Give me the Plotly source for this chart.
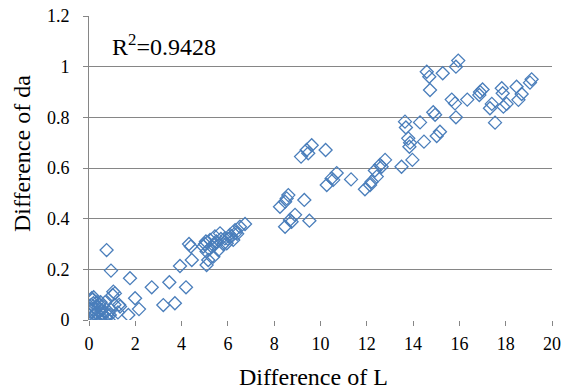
import plotly.graph_objects as go

# Difference of L (x) and Difference of da (y)
diff_L = [
    0.0, 0.05, 0.1, 0.12, 0.15, 0.19, 0.2, 0.25, 0.3, 0.35, 0.4, 0.45, 0.5, 0.55,
    0.6, 0.65, 0.7, 0.75, 0.85, 0.9, 0.95, 0.2, 0.1, 0.3, 0.5, 0.7, 1.1, 1.25,
    1.3, 0.05, 0.4, 0.6, 0.8, 1.02, 1.05, 1.12, 1.34, 0.25, 0.55,
    0.76, 0.95, 1.77, 1.99, 2.16, 1.7, 2.71, 3.21, 3.47, 3.71, 3.93, 4.19,
    4.32, 4.4, 4.44, 5.08, 5.08, 5.01, 5.23, 5.44, 5.66, 5.59, 5.37, 5.87,
    6.09, 6.31, 6.52, 6.74, 6.23, 5.95, 5.15, 4.94, 5.3, 5.5, 5.8, 6.0, 6.4,
    5.2, 5.45, 5.7, 6.15, 6.35, 5.05,
    8.25, 8.47, 8.61, 8.54, 9.3, 8.47, 8.68, 8.9, 8.75, 9.52,
    9.16, 9.4, 9.47, 9.62, 10.22, 10.27, 10.48, 10.7, 10.55, 11.32,
    11.92, 12.14, 12.21, 12.43, 12.64, 12.35, 12.57, 12.79, 13.5, 13.97,
    13.79, 13.87, 13.84, 14.47, 15.02, 15.16,
    13.65, 13.69, 14.3, 14.87, 14.95, 15.67, 15.81, 15.85, 16.34, 16.89, 17.0,
    14.59, 14.7, 15.28, 14.73, 15.85, 15.95,
    16.86, 17.83, 17.87, 18.47, 18.69, 18.55, 18.04, 17.9, 17.4, 17.32,
    17.54, 19.05, 19.12,
]
diff_da = [
    0.02, 0.04, 0.06, 0.086, 0.08, 0.066, 0.09, 0.05, 0.03, 0.07, 0.01, 0.06, 0.07, 0.04,
    0.02, 0.0, 0.03, 0.01, 0.0, 0.02, 0.04, 0.0, 0.01, 0.0, 0.0, 0.07, 0.06, 0.03,
    0.06, 0.0, 0.05, 0.055, 0.02, 0.099, 0.112, 0.105, 0.053, 0.02, 0.025,
    0.276, 0.195, 0.165, 0.086, 0.043, 0.02, 0.129, 0.059, 0.149, 0.066, 0.213, 0.129,
    0.30, 0.29, 0.237, 0.217, 0.27, 0.30, 0.316, 0.33, 0.342, 0.276, 0.25, 0.322,
    0.336, 0.355, 0.368, 0.379, 0.316, 0.303, 0.237, 0.29, 0.29, 0.31, 0.30, 0.32, 0.34,
    0.28, 0.30, 0.32, 0.33, 0.345, 0.31,
    0.447, 0.467, 0.493, 0.48, 0.474, 0.368, 0.395, 0.415, 0.388, 0.392,
    0.645, 0.671, 0.658, 0.69, 0.671, 0.533, 0.559, 0.58, 0.553, 0.555,
    0.516, 0.533, 0.546, 0.566, 0.605, 0.59, 0.612, 0.632, 0.605, 0.632,
    0.717, 0.70, 0.684, 0.704, 0.726, 0.743,
    0.783, 0.76, 0.78, 0.82, 0.81, 0.87, 0.855, 0.80, 0.87, 0.90, 0.91,
    0.98, 0.96, 0.974, 0.908, 1.0, 1.024,
    0.888, 0.915, 0.895, 0.921, 0.892, 0.869, 0.853, 0.842, 0.853, 0.836,
    0.779, 0.937, 0.95,
]

x_ticks = list(range(0, 21, 2))
y_tickvals = [0, 0.2, 0.4, 0.6, 0.8, 1.0, 1.2]
y_ticktext = ["0", "0.2", "0.4", "0.6", "0.8", "1", "1.2"]
x_title = "Difference of L"
y_title = "Difference of da"
r2_text = "R<sup>2</sup>=0.9428"

blue = "#4a7ebb"
grid = "#868686"
FF = "Times New Roman, Liberation Serif, DejaVu Serif, serif"

fig = go.Figure()
fig.add_trace(go.Scatter(
    x=diff_L, y=diff_da, mode="markers",
    marker=dict(symbol="diamond-open", size=10, color=blue, line=dict(width=1.3, color=blue)),
    showlegend=False, hoverinfo="x+y",
))

fig.update_layout(
    width=573, height=391,
    margin=dict(l=89, r=21, t=16, b=71),
    paper_bgcolor="white", plot_bgcolor="white",
    font=dict(family=FF, color="black", size=18),
    xaxis=dict(
        range=[0, 20], tickvals=x_ticks, showgrid=False, zeroline=False,
        showline=False, ticks="outside", ticklen=5, tickcolor=grid, tickwidth=1,
        tickfont=dict(family=FF, size=18, color="black"), ticklabelstandoff=2,
        automargin=False,
    ),
    yaxis=dict(
        range=[0, 1.2], tickvals=y_tickvals, ticktext=y_ticktext,
        showgrid=True, gridcolor=grid, gridwidth=1, zeroline=False,
        showline=True, linecolor=grid, linewidth=1,
        ticks="outside", ticklen=5, tickcolor=grid, tickwidth=1,
        tickfont=dict(family=FF, size=18, color="black"), ticklabelstandoff=10,
        automargin=False,
    ),
    annotations=[
        dict(text=r2_text, x=0.9, y=1.087, xref="x", yref="y",
             xanchor="left", yanchor="middle", showarrow=False,
             font=dict(size=24, family=FF, color="black")),
        dict(text=x_title, x=313, y=377, xref="x domain", yref="paper",
             showarrow=False, font=dict(size=24, family=FF, color="black")),
        dict(text=y_title, x=22, y=154, showarrow=False, textangle=-90,
             font=dict(size=24, family=FF, color="black")),
    ],
)
# place the axis-title annotations in pixel terms via paper coordinates
W, H = 573, 391
L, R, T, B = 89, 21, 16, 71
pw, ph = W - L - R, H - T - B
fig.layout.annotations[1].update(xref="paper", yref="paper",
                                 x=(313 - L) / pw, y=(H - B - 377) / ph,
                                 xanchor="center", yanchor="middle")
fig.layout.annotations[2].update(xref="paper", yref="paper",
                                 x=(22 - L) / pw, y=(H - B - 154) / ph,
                                 xanchor="center", yanchor="middle")

fig.write_html("out.html")
